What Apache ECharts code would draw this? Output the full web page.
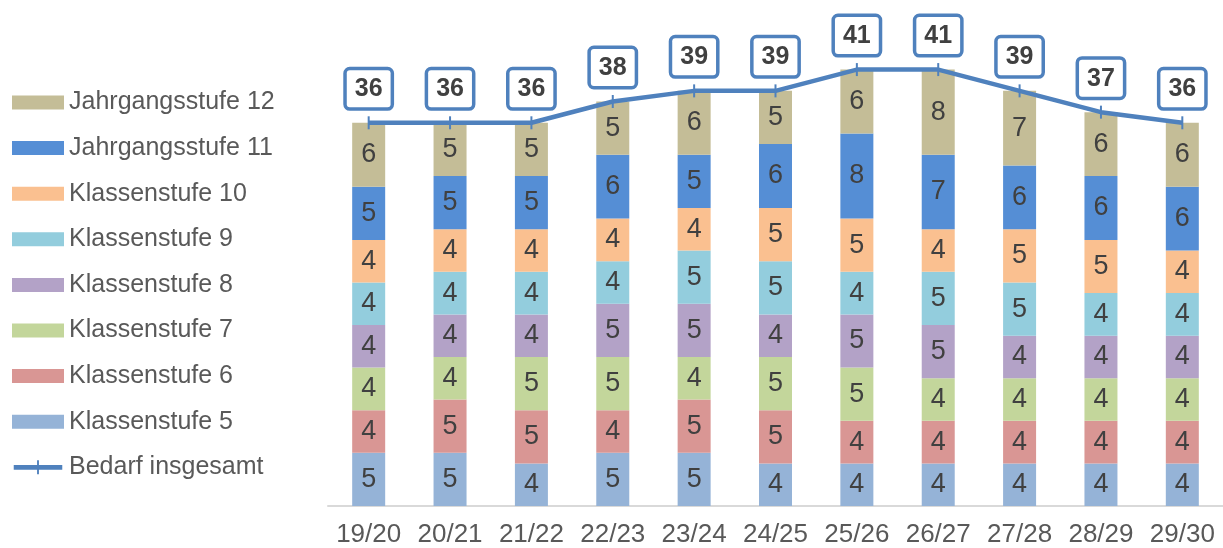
<!DOCTYPE html>
<html>
<head>
<meta charset="utf-8">
<script src="https://cdn.jsdelivr.net/npm/echarts@6/dist/echarts.min.js"></script>
<style>html,body{margin:0;padding:0;background:#fff;}#chart{width:1223px;height:548px;}</style>
</head>
<body>
<div id="chart"></div>
<script>
var categories = ['19/20','20/21','21/22','22/23','23/24','24/25','25/26','26/27','27/28','28/29','29/30'];
var ks5  = [5,5,4,5,5,4,4,4,4,4,4];
var ks6  = [4,5,5,4,5,5,4,4,4,4,4];
var ks7  = [4,4,5,5,4,5,5,4,4,4,4];
var ks8  = [4,4,4,5,5,4,5,5,4,4,4];
var ks9  = [4,4,4,4,5,5,4,5,5,4,4];
var ks10 = [4,4,4,4,4,5,5,4,5,5,4];
var js11 = [5,5,5,6,5,6,8,7,6,6,6];
var js12 = [6,5,5,5,6,5,6,8,7,6,6];
var total = [36,36,36,38,39,39,41,41,39,37,36];

var names = ['Klassenstufe 5','Klassenstufe 6','Klassenstufe 7','Klassenstufe 8','Klassenstufe 9','Klassenstufe 10','Jahrgangsstufe 11','Jahrgangsstufe 12'];
var stackData = [ks5, ks6, ks7, ks8, ks9, ks10, js11, js12];
var colors = ['#95b3d7','#d99694','#c3d69b','#b3a2c7','#93cddd','#fac090','#558ed5','#c4bd97'];
var lineColor = '#4f81bd';
var font = '"Liberation Sans", Arial, sans-serif';

var series = stackData.map(function (d, i) {
  return {
    name: names[i],
    type: 'bar',
    stack: 'all',
    data: d,
    barWidth: 33,
    itemStyle: { color: colors[i] },
    label: {
      show: true,
      position: 'inside',
      color: '#404040',
      fontSize: 27,
      fontFamily: font
    },
    emphasis: { disabled: true }
  };
});
series.push({
  name: 'Bedarf insgesamt',
  type: 'line',
  data: total,
  z: 5,
  symbol: 'rect',
  symbolSize: [2, 13],
  showAllSymbol: true,
  lineStyle: { color: lineColor, width: 4.5 },
  itemStyle: { color: lineColor },
  label: {
    show: true,
    position: 'top',
    distance: 9,
    color: '#404040',
    fontSize: 25,
    fontWeight: 'bold',
    fontFamily: font,
    lineHeight: 26,
    backgroundColor: '#ffffff',
    borderColor: lineColor,
    borderWidth: 3.5,
    borderRadius: 3,
    padding: [6, 8, 5, 8]
  },
  emphasis: { disabled: true }
});

var lineIcon = 'path://M0,5 L25,5 L25,0 L27,0 L27,5 L52,5 L52,10 L27,10 L27,15 L25,15 L25,10 L0,10 Z';
var legendData = names.slice().reverse().map(function (n) { return { name: n, icon: 'rect' }; });
legendData.push({ name: 'Bedarf insgesamt', icon: lineIcon });

var chart = echarts.init(document.getElementById('chart'), null, { renderer: 'canvas' });
chart.setOption({
  animation: false,
  backgroundColor: '#ffffff',
  legend: {
    orient: 'vertical',
    left: 12,
    top: 90,
    padding: 0,
    itemWidth: 52,
    itemHeight: 14,
    itemGap: 20.6,
    data: legendData,
    textStyle: { color: '#595959', fontSize: 25, fontFamily: font, lineHeight: 24 }
  },
  grid: { left: 328, right: -8, top: 27, bottom: 42, containLabel: false },
  xAxis: {
    type: 'category',
    data: categories,
    axisLine: { lineStyle: { color: '#d9d9d9', width: 2 } },
    axisTick: { show: false },
    axisLabel: { color: '#595959', fontSize: 26, fontFamily: font, margin: 16, interval: 0 }
  },
  yAxis: {
    type: 'value',
    min: 0,
    max: 45,
    show: false,
    splitLine: { show: false }
  },
  series: series
});
</script>
</body>
</html>
